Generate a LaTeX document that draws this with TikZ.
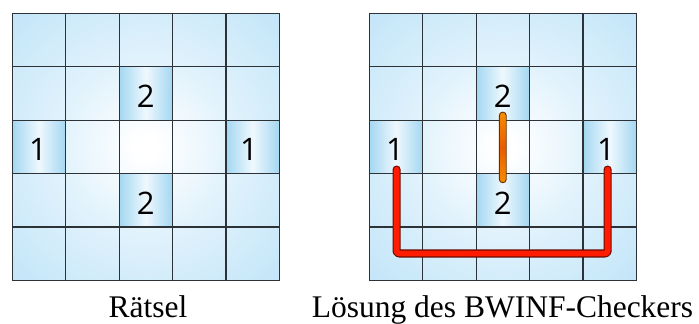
\documentclass[tikz,border=0pt]{standalone}
\usepackage{fontspec}
\setmainfont{Liberation Serif}
\newfontfamily\digitfont{Open Sans}
\usetikzlibrary{calc}

\definecolor{cellblue}{RGB}{189,227,248}
\definecolor{clueedge}{RGB}{163,215,242}
\definecolor{gridline}{RGB}{45,50,55}
\definecolor{pathred}{RGB}{255,28,0}
\definecolor{pathredrim}{RGB}{105,10,0}
\definecolor{pathorange}{RGB}{248,140,0}
\definecolor{pathorangemid}{RGB}{232,92,0}
\definecolor{pathorangerim}{RGB}{100,50,0}

% soft white glow in the middle of a board, blue towards the rim
\pgfdeclareradialshading{boardglow}{\pgfpoint{0bp}{0bp}}{%
  color(0bp)=(white); color(2bp)=(white); color(16bp)=(cellblue!45);
  color(34bp)=(cellblue!88); color(50bp)=(cellblue)}

\tikzset{
  gridrule/.style={draw=gridline, line width=1.2pt, line cap=rect},
  cluecell/.style={left color=clueedge, right color=clueedge, middle color=cellblue!25},
  digit/.style={inner sep=0pt, anchor=base, font=\digitfont\fontsize{31}{36}\selectfont},
  caption/.style={inner sep=0pt, anchor=base, font=\fontsize{31.5}{36}\selectfont},
  redrim/.style={draw=pathredrim, line width=8.2pt, line cap=round, line join=round, rounded corners=2.5pt},
  redcore/.style={draw=pathred, line width=5.8pt, line cap=round, line join=round, rounded corners=2.5pt},
}

\newcommand{\cellsz}{53.4}
% #1 = left edge of the board, #2 = name prefix of its clue nodes
\newcommand{\puzzleboard}[2]{%
  \shade[shading=boardglow] (#1,13.3) rectangle ++(267,267);
  % clue cells carry a vertical band shading
  \foreach \cx/\cy in {2/1, 0/2, 4/2, 2/3}{
    \shade[cluecell] (#1+\cx*\cellsz,13.3+\cy*\cellsz) rectangle ++(\cellsz,\cellsz);
  }
  \foreach \i in {0,...,5}{
    \draw[gridrule] (#1+\i*\cellsz,13.3) -- ++(0,267);
    \draw[gridrule] (#1,13.3+\i*\cellsz) -- ++(267,0);
  }
  \node[digit] (#2-top)    at (#1+2.5*\cellsz, 13.3+1.5*\cellsz+14.2) {2};
  \node[digit] (#2-bottom) at (#1+2.5*\cellsz, 13.3+3.5*\cellsz+14.2) {2};
  \node[digit] (#2-left)   at (#1+0.5*\cellsz-1.0, 13.3+2.5*\cellsz+13.4) {1};
  \node[digit] (#2-right)  at (#1+4.5*\cellsz-3.6, 13.3+2.5*\cellsz+13.4) {1};
}

\begin{document}
\begin{tikzpicture}[x=1pt, y=-1pt]
  \useasboundingbox (0,0) rectangle (699,324);

  \puzzleboard{12.3}{L}
  \puzzleboard{369.3}{R}

  % bridge between the two 2s
  \shade[top color=pathorange, bottom color=pathorange, middle color=pathorangemid,
         draw=pathorangerim, line width=0.9pt, rounded corners=3.3pt]
    ($(R-top.south)+(-3.4,4.3)$) rectangle ($(R-bottom.north)+(3.4,-9.0)$);

  % bridge between the two 1s, running round the bottom row
  \coordinate (R-floor) at (0,253.4);
  \foreach \layer in {redrim, redcore}{
    \draw[\layer] ([xshift=1.6pt, yshift=-9.2pt]R-left.south)
      -- ([xshift=1.6pt]R-left.south |- R-floor)
      -- ([xshift=1.6pt]R-right.south |- R-floor)
      -- ([xshift=1.6pt, yshift=-9.2pt]R-right.south);
  }

  \node[caption] (cap-puzzle)   at (148,317.3)   {Rätsel};
  \node[caption] (cap-solution) at (502.5,317.3) {Lösung des BWINF-Checkers};
\end{tikzpicture}
\end{document}
